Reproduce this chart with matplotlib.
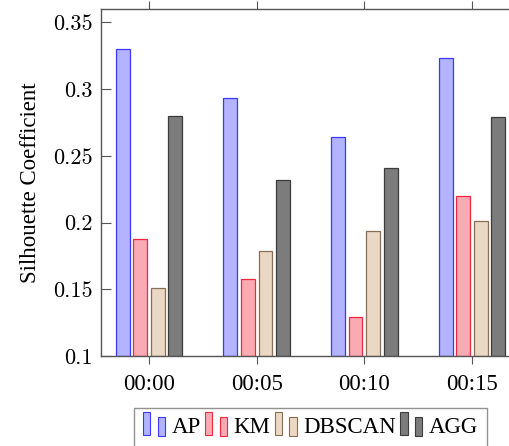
import matplotlib
matplotlib.use("Agg")
import matplotlib.pyplot as plt
from matplotlib.legend_handler import HandlerBase
from matplotlib.patches import Rectangle
import numpy as np

# data
times = ["00:00", "00:05", "00:10", "00:15"]
methods = ["AP", "KM", "DBSCAN", "AGG"]
ap = [0.330, 0.293, 0.264, 0.323]
km = [0.188, 0.158, 0.129, 0.220]
dbscan = [0.151, 0.179, 0.194, 0.201]
agg = [0.280, 0.232, 0.241, 0.279]
yticks = [0.1, 0.15, 0.2, 0.25, 0.3, 0.35]
ytick_labels = ["0.1", "0.15", "0.2", "0.25", "0.3", "0.35"]

# pgfplots-like bar colours
edges = ["#3a3aff", "#f0283f", "#8a6e52", "#3c3c3c"]
fills = ["#b3b3ff", "#f9aab2", "#ead8c5", "#7c7c7c"]

plt.rcParams["font.family"] = ["Liberation Serif", "DejaVu Serif"]
plt.rcParams["font.size"] = 16.5
times_font = {"family": ["Liberation Serif", "DejaVu Serif"], "size": 16.5}
cm_font = {"family": ["cmr10", "DejaVu Serif"], "size": 16}


class TwoBarHandler(HandlerBase):
    # legend icon like pgfplots ybar legend: two small bars
    def create_artists(self, legend, orig_handle, xdescent, ydescent,
                       width, height, fontsize, trans):
        fc = orig_handle.get_facecolor()
        ec = orig_handle.get_edgecolor()
        w = width / 3.0
        r1 = Rectangle((-xdescent, -ydescent - 0.1 * height), w, 1.4 * height,
                       facecolor=fc, edgecolor=ec, lw=0.8, transform=trans)
        r2 = Rectangle((-xdescent + 2 * w, -ydescent - 0.15 * height), w, 1.15 * height,
                       facecolor=fc, edgecolor=ec, lw=0.8, transform=trans)
        return [r1, r2]


fig = plt.figure(figsize=(5.10, 4.46), dpi=100)
ax = fig.add_axes([101 / 510, 90 / 446, 419 / 510, 347 / 446])

x = np.arange(len(times))
offsets = [-0.245, -0.082, 0.082, 0.245]
series = [ap, km, dbscan, agg]
bars = []
for i, vals in enumerate(series):
    b = ax.bar(x + offsets[i], np.array(vals) - 0.1, bottom=0.1, width=0.13,
               facecolor=fills[i], edgecolor=edges[i], linewidth=0.9,
               label=methods[i], zorder=2)
    bars.append(b[0])

ax.set_xlim(-0.446, 3.446)
ax.set_ylim(0.1, 0.36)
ax.set_xticks(x)
ax.set_xticklabels(times, fontdict=times_font)
ax.set_yticks(yticks)
ax.set_yticklabels(ytick_labels, fontdict=cm_font)

for s in ax.spines.values():
    s.set_color("#555555")
    s.set_linewidth(1.0)

ax.tick_params(axis="x", which="both", direction="out", length=6, width=0.8,
               color="#555555", top=True, bottom=True, pad=7)
ax.tick_params(axis="y", which="both", direction="in", length=7, width=0.8,
               color="#555555", left=True, right=True, pad=6)

ax.set_ylabel("Silhouette Coefficient", fontdict=times_font, labelpad=9)

leg = ax.legend(bars, methods, loc="upper center", bbox_to_anchor=(0.5, -0.15),
                ncol=4, frameon=True, fancybox=False,
                handler_map={b: TwoBarHandler() for b in bars},
                prop={"family": ["Liberation Serif", "DejaVu Serif"], "size": 16.5},
                handlelength=0.95, handletextpad=0.28, columnspacing=0.2,
                borderpad=0.4, borderaxespad=0.0)
leg.get_frame().set_edgecolor("#777777")
leg.get_frame().set_linewidth(1.0)

fig.savefig("out.png", dpi=100)
